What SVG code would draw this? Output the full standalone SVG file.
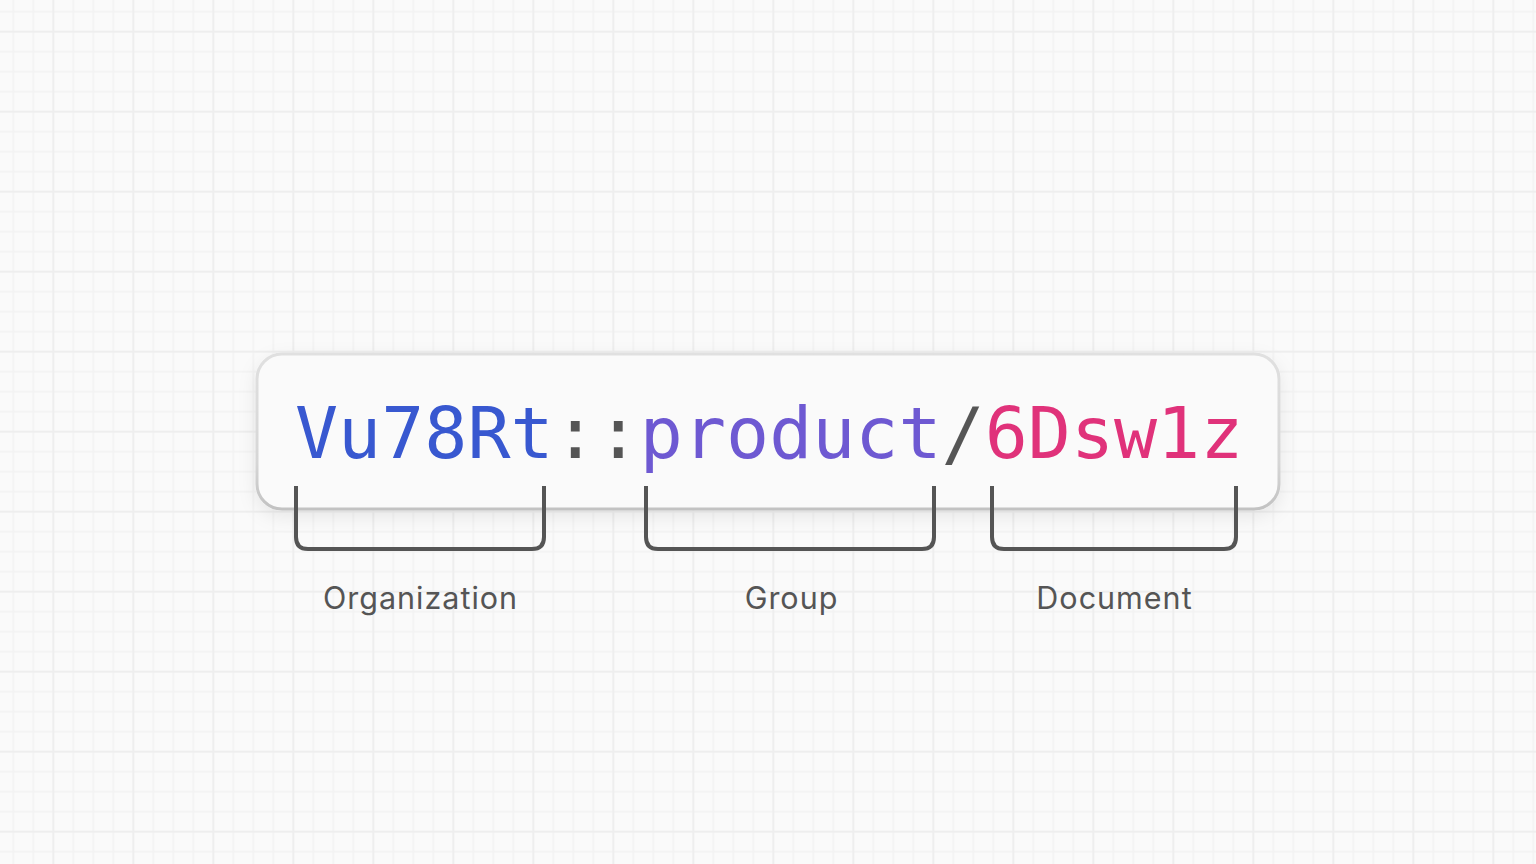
<svg xmlns="http://www.w3.org/2000/svg" width="1536" height="864" viewBox="0 0 1536 864">
  <defs>
    <pattern id="grid" patternUnits="userSpaceOnUse" x="52.33" y="30.67" width="80" height="80">
      <rect x="20.25" y="0" width="1.5" height="80" fill="#f2f2f2"/>
      <rect x="40.25" y="0" width="1.5" height="80" fill="#f2f2f2"/>
      <rect x="60.25" y="0" width="1.5" height="80" fill="#f2f2f2"/>
      <rect x="0" y="20.25" width="80" height="1.5" fill="#f2f2f2"/>
      <rect x="0" y="40.25" width="80" height="1.5" fill="#f2f2f2"/>
      <rect x="0" y="60.25" width="80" height="1.5" fill="#f2f2f2"/>
      <rect x="0" y="0" width="2" height="80" fill="#eeeeee"/>
      <rect x="0" y="0" width="80" height="2" fill="#eeeeee"/>
    </pattern>
    <linearGradient id="edge" x1="0" y1="0" x2="0" y2="1">
      <stop offset="0" stop-color="#e0e0e0"/>
      <stop offset="0.7" stop-color="#d6d6d6"/>
      <stop offset="1" stop-color="#c2c2c2"/>
    </linearGradient>
    <filter id="shadow" x="-10%" y="-30%" width="120%" height="170%">
      <feDropShadow dx="0" dy="6" stdDeviation="9" flood-color="#000" flood-opacity="0.08"/>
    </filter>
  </defs>
  <style>
    .mono { font-family: "DejaVu Sans Mono", "Liberation Mono", monospace; font-size: 71.6px; }
    .org { fill: #3858d0; }
    .grp { fill: #6e59d2; }
    .doc { fill: #e0327a; }
    .sep { fill: #555555; }
    .label { font-family: Inter, "Noto Sans", "Liberation Sans", sans-serif; font-size: 30.5px; letter-spacing: 1px; fill: #555555; text-anchor: middle; }
    .bracket { fill: none; stroke: #555555; stroke-width: 4; stroke-linecap: butt; stroke-linejoin: round; }
  </style>
  <rect width="1536" height="864" fill="#fafafa"/>
  <rect width="1536" height="864" fill="url(#grid)"/>

  <g id="identifier">
    <rect x="257" y="354" width="1022" height="155" rx="25" ry="25" fill="#fafafa" stroke="url(#edge)" stroke-width="3" filter="url(#shadow)"/>
    <text class="mono" x="295" y="458"><tspan class="org">Vu78Rt</tspan><tspan class="sep">::</tspan><tspan class="grp">product</tspan><tspan class="sep">/</tspan><tspan class="doc">6Dsw1z</tspan></text>
  </g>

  <g id="connectors">
    <path class="bracket" d="M296 486 V537 Q296 549 308 549 H532 Q544 549 544 537 V486"/>
    <path class="bracket" d="M646 486 V537 Q646 549 658 549 H922 Q934 549 934 537 V486"/>
    <path class="bracket" d="M992 486 V537 Q992 549 1004 549 H1224 Q1236 549 1236 537 V486"/>
  </g>

  <g id="label-organization">
    <text class="label" x="420.5" y="609">Organization</text>
  </g>
  <g id="label-group">
    <text class="label" x="791.5" y="609">Group</text>
  </g>
  <g id="label-document">
    <text class="label" x="1114.5" y="609">Document</text>
  </g>
</svg>
